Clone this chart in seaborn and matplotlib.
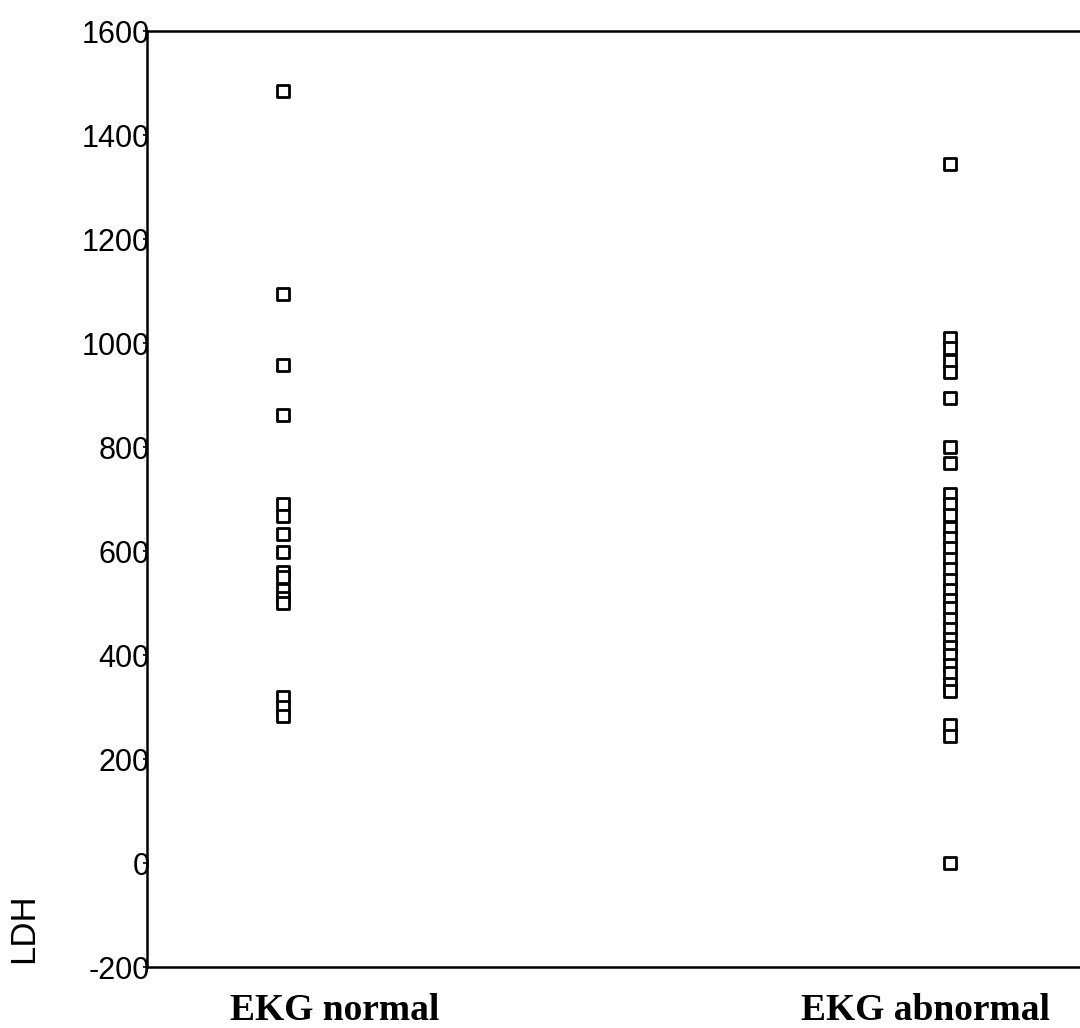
import matplotlib
matplotlib.use("Agg")
import matplotlib.pyplot as plt
import pandas as pd
import seaborn as sns

# LDH values
ldh_normal = [1485, 1095, 957, 861, 690, 668, 632, 598, 560, 550, 525, 510, 500, 320, 300, 283]
ldh_abnormal = [1345, 1010, 990, 965, 945, 895, 800, 770, 710, 690, 670, 645, 625, 605,
                585, 565, 545, 525, 505, 490, 470, 450, 430, 415, 400, 380, 365, 345,
                330, 265, 245, 0]
groups = ["EKG normal", "EKG abnormal"]
y_ticks = [-200, 0, 200, 400, 600, 800, 1000, 1200, 1400, 1600]


def build_frame():
    return pd.DataFrame({
        "group": [groups[0]] * len(ldh_normal) + [groups[1]] * len(ldh_abnormal),
        "LDH": ldh_normal + ldh_abnormal,
    })


def main():
    sns.set_theme(style="white")
    plt.rcParams["font.family"] = ["Liberation Sans", "DejaVu Sans"]
    plt.rcParams["axes.unicode_minus"] = False

    df = build_frame()

    fig = plt.figure(figsize=(10.8, 10.28), dpi=100)
    ax = fig.add_axes([0.1361, 0.0593, 0.8639, 0.9105])

    sns.stripplot(
        data=df, x="group", y="LDH", order=groups,
        jitter=False, marker="s", size=8.5,
        color="white", edgecolor="black", linewidth=2.0,
        ax=ax,
    )

    ax.set_xlim(-0.204, 1.195)
    ax.set_ylim(-200, 1600)
    ax.set_yticks(y_ticks)
    ax.set_xticks([])
    ax.set_xlabel("")

    ax.tick_params(axis="y", direction="out", length=3, width=1.2, color="black",
                   labelsize=22, labelcolor="black", pad=-5, left=True)
    for side in ["left", "top", "bottom"]:
        ax.spines[side].set_visible(True)
        ax.spines[side].set_color("black")
        ax.spines[side].set_linewidth(1.8)
    ax.spines["right"].set_visible(False)

    ax.set_ylabel("LDH", fontsize=25, color="black")
    ax.yaxis.set_label_coords(-0.115, 0.042)

    # category labels sit a little right of the point columns
    fig.text(335 / 1080, 0.008, groups[0], ha="center", va="baseline", color="black",
             fontsize=27, fontweight="bold", family=["Liberation Serif", "DejaVu Serif"])
    fig.text(925 / 1080, 0.008, groups[1], ha="center", va="baseline", color="black",
             fontsize=27, fontweight="bold", family=["Liberation Serif", "DejaVu Serif"])

    fig.savefig("out.png", dpi=100)
    plt.close(fig)


if __name__ == "__main__":
    main()
